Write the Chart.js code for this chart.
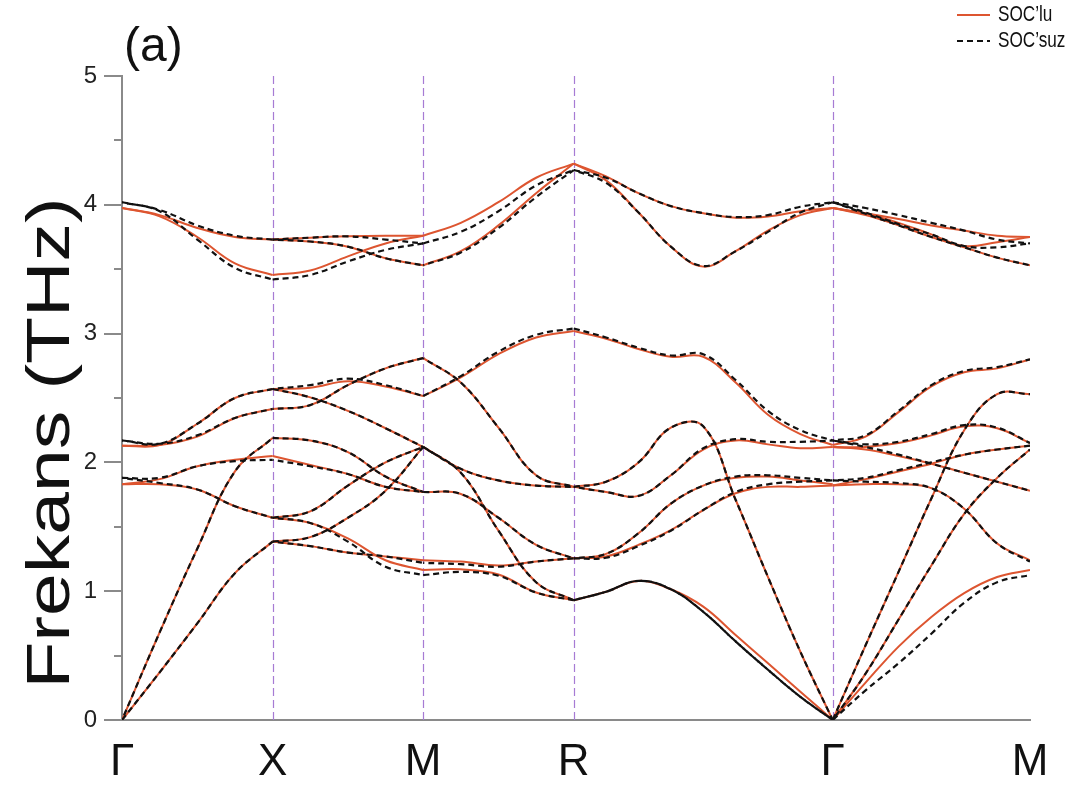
<!DOCTYPE html>
<html>
<head>
<meta charset="utf-8">
<title>Fonon dispersiyonu</title>
<script src="https://cdn.jsdelivr.net/npm/chart.js@4.4.1/dist/chart.umd.min.js"></script>
<style>
  html, body { margin:0; padding:0; background:#fff; }
  #wrap { width:1067px; height:787px; }
</style>
</head>
<body>
<div id="wrap"><canvas id="bands" width="1067" height="787"></canvas></div>
<script>
// k-path ticks
var kTicks = [0, 1, 2, 3, 4.72, 6.03];
var kLabels = ['\u0393', 'X', 'M', 'R', '\u0393', 'M'];
var seriesNames = ['SOC\u2019lu', 'SOC\u2019suz'];

// sample positions along each path segment
var kGX = [0, 0.25, 0.5, 0.75, 1];
var kXM = [1, 1.25, 1.5, 1.75, 2];
var kMR = [2, 2.25, 2.5, 2.75, 3];
var kRG = [3, 3.215, 3.43, 3.645, 3.86, 4.075, 4.29, 4.505, 4.72];
var kGM = [4.72, 4.938, 5.157, 5.375, 5.593, 5.812, 6.03];

// Gamma - X (THz)
var gxSoc = [
  [3.975, 3.92, 3.82, 3.75, 3.73],
  [3.975, 3.91, 3.75, 3.545, 3.455],
  [2.13, 2.135, 2.30, 2.50, 2.57],
  [2.13, 2.135, 2.20, 2.345, 2.415],
  [1.83, 1.87, 1.97, 2.02, 2.05],
  [1.83, 1.83, 1.79, 1.66, 1.57],
  [0, 0.37, 0.75, 1.14, 1.385],
  [0, 0.68, 1.33, 1.93, 2.19]
];
var gxNoSoc = [
  [4.02, 3.96, 3.84, 3.76, 3.73],
  [4.02, 3.95, 3.73, 3.51, 3.42],
  [2.17, 2.145, 2.30, 2.50, 2.57],
  [2.17, 2.145, 2.21, 2.345, 2.415],
  [1.88, 1.88, 1.97, 2.01, 2.02],
  [1.88, 1.84, 1.79, 1.66, 1.57],
  [0, 0.37, 0.75, 1.14, 1.385],
  [0, 0.68, 1.33, 1.93, 2.19]
];

// X - M
var xmSoc = [
  [3.73, 3.745, 3.755, 3.76, 3.76],
  [3.73, 3.715, 3.675, 3.585, 3.53],
  [3.455, 3.49, 3.60, 3.70, 3.76],
  [2.57, 2.58, 2.63, 2.59, 2.515],
  [2.57, 2.505, 2.40, 2.265, 2.12],
  [2.415, 2.445, 2.60, 2.73, 2.81],
  [2.19, 2.17, 2.08, 1.89, 1.77],
  [2.05, 1.98, 1.91, 1.81, 1.77],
  [1.57, 1.62, 1.82, 2.00, 2.12],
  [1.57, 1.53, 1.41, 1.24, 1.165],
  [1.385, 1.42, 1.57, 1.78, 2.12],
  [1.385, 1.35, 1.30, 1.27, 1.24]
];
var xmNoSoc = [
  [3.73, 3.745, 3.755, 3.73, 3.70],
  [3.73, 3.715, 3.675, 3.585, 3.53],
  [3.42, 3.455, 3.56, 3.65, 3.70],
  [2.57, 2.60, 2.65, 2.60, 2.515],
  [2.57, 2.505, 2.40, 2.265, 2.12],
  [2.415, 2.445, 2.60, 2.73, 2.81],
  [2.19, 2.17, 2.08, 1.89, 1.77],
  [2.02, 1.97, 1.91, 1.81, 1.77],
  [1.57, 1.62, 1.82, 2.00, 2.12],
  [1.57, 1.53, 1.385, 1.19, 1.125],
  [1.385, 1.42, 1.57, 1.78, 2.12],
  [1.385, 1.35, 1.30, 1.27, 1.22]
];

// M - R
var mrSoc = [
  [3.76, 3.86, 4.02, 4.21, 4.32],
  [3.53, 3.64, 3.84, 4.09, 4.32],
  [2.515, 2.66, 2.84, 2.97, 3.02],
  [2.81, 2.62, 2.27, 1.90, 1.81],
  [2.12, 1.95, 1.86, 1.82, 1.81],
  [2.12, 1.92, 1.47, 1.07, 0.93],
  [1.77, 1.755, 1.57, 1.36, 1.255],
  [1.24, 1.23, 1.20, 1.23, 1.255],
  [1.165, 1.17, 1.13, 0.99, 0.93]
];
var mrNoSoc = [
  [3.70, 3.79, 3.95, 4.15, 4.27],
  [3.53, 3.63, 3.82, 4.06, 4.27],
  [2.515, 2.67, 2.86, 2.99, 3.04],
  [2.81, 2.62, 2.27, 1.90, 1.81],
  [2.12, 1.95, 1.86, 1.82, 1.81],
  [2.12, 1.92, 1.47, 1.07, 0.93],
  [1.77, 1.755, 1.57, 1.36, 1.255],
  [1.22, 1.21, 1.19, 1.23, 1.255],
  [1.125, 1.15, 1.12, 0.99, 0.93]
];

// R - Gamma
var rgSoc = [
  [4.32, 4.22, 4.09, 3.99, 3.935, 3.90, 3.91, 3.95, 3.975],
  [4.32, 4.19, 3.94, 3.675, 3.52, 3.64, 3.80, 3.92, 3.975],
  [3.02, 2.96, 2.88, 2.82, 2.82, 2.62, 2.37, 2.22, 2.135],
  [1.81, 1.77, 1.74, 1.90, 2.10, 2.17, 2.14, 2.11, 2.12],
  [1.81, 1.85, 2.00, 2.27, 2.28, 1.71, 1.11, 0.53, 0],
  [1.255, 1.29, 1.45, 1.68, 1.82, 1.88, 1.89, 1.86, 1.83],
  [1.255, 1.27, 1.36, 1.475, 1.63, 1.76, 1.81, 1.81, 1.82],
  [0.93, 0.996, 1.08, 1.015, 0.88, 0.66, 0.44, 0.22, 0]
];
var rgNoSoc = [
  [4.27, 4.21, 4.09, 3.99, 3.935, 3.905, 3.92, 3.985, 4.02],
  [4.27, 4.17, 3.94, 3.675, 3.525, 3.64, 3.79, 3.94, 4.02],
  [3.04, 2.97, 2.89, 2.83, 2.84, 2.64, 2.40, 2.25, 2.17],
  [1.81, 1.77, 1.74, 1.90, 2.11, 2.18, 2.16, 2.16, 2.17],
  [1.81, 1.85, 2.00, 2.27, 2.28, 1.71, 1.11, 0.53, 0],
  [1.255, 1.29, 1.45, 1.68, 1.82, 1.89, 1.90, 1.88, 1.86],
  [1.255, 1.26, 1.35, 1.47, 1.63, 1.77, 1.83, 1.85, 1.86],
  [0.93, 0.996, 1.08, 1.015, 0.84, 0.61, 0.39, 0.18, 0],
  [0.93, 0.996, 1.08, 1.015, 0.84, 0.61, 0.39, 0.18, 0]
];

// Gamma - M
var gmSoc = [
  [3.975, 3.935, 3.89, 3.84, 3.80, 3.76, 3.75],
  [3.975, 3.93, 3.86, 3.77, 3.68, 3.71, 3.75],
  [3.975, 3.92, 3.84, 3.75, 3.67, 3.59, 3.53],
  [2.135, 2.20, 2.39, 2.59, 2.70, 2.73, 2.80],
  [2.12, 2.12, 2.15, 2.21, 2.28, 2.265, 2.15],
  [2.12, 2.10, 2.05, 1.99, 1.92, 1.85, 1.78],
  [1.82, 1.83, 1.83, 1.80, 1.64, 1.37, 1.24],
  [1.82, 1.87, 1.93, 1.99, 2.06, 2.10, 2.13],
  [0, 0.58, 1.15, 1.72, 2.25, 2.53, 2.53],
  [0, 0.36, 0.78, 1.20, 1.60, 1.88, 2.10],
  [0, 0.29, 0.57, 0.80, 0.985, 1.11, 1.165]
];
var gmNoSoc = [
  [4.02, 3.975, 3.92, 3.86, 3.80, 3.73, 3.70],
  [4.02, 3.94, 3.85, 3.77, 3.68, 3.67, 3.70],
  [4.02, 3.93, 3.84, 3.75, 3.67, 3.59, 3.53],
  [2.17, 2.21, 2.40, 2.60, 2.71, 2.74, 2.80],
  [2.17, 2.14, 2.16, 2.22, 2.29, 2.27, 2.15],
  [2.17, 2.12, 2.06, 1.99, 1.92, 1.85, 1.78],
  [1.86, 1.85, 1.84, 1.80, 1.64, 1.37, 1.23],
  [1.86, 1.88, 1.94, 2.00, 2.06, 2.10, 2.13],
  [0, 0.58, 1.15, 1.72, 2.25, 2.53, 2.53],
  [0, 0.36, 0.78, 1.20, 1.60, 1.88, 2.10],
  [0, 0.23, 0.44, 0.67, 0.91, 1.07, 1.125]
];

var socColor = '#dd5530';
var noSocColor = '#111111';
var fontFam = '"Liberation Sans", Arial, Helvetica, sans-serif';

var segments = [
  {k: kGX, soc: gxSoc, noSoc: gxNoSoc},
  {k: kXM, soc: xmSoc, noSoc: xmNoSoc},
  {k: kMR, soc: mrSoc, noSoc: mrNoSoc},
  {k: kRG, soc: rgSoc, noSoc: rgNoSoc},
  {k: kGM, soc: gmSoc, noSoc: gmNoSoc}
];

function makeSet(k, band, soc, idx) {
  return {
    label: soc ? seriesNames[0] : seriesNames[1],
    data: band.map(function(f, i) { return {x: k[i], y: f}; }),
    borderColor: soc ? socColor : noSocColor,
    borderWidth: soc ? 2 : 2.2,
    borderDash: soc ? [] : [6, 4],
    borderDashOffset: soc ? 0 : (idx * 5) % 10,
    fill: false,
    pointRadius: 0,
    tension: 0.4,
    order: soc ? 1 : 0
  };
}

var datasets = [];
segments.forEach(function(seg) {
  seg.noSoc.forEach(function(band, i) { datasets.push(makeSet(seg.k, band, false, i)); });
  seg.soc.forEach(function(band, i) { datasets.push(makeSet(seg.k, band, true, i)); });
});

//Decorations: symmetry lines, tick marks, titles, legend
var decor = {
  id: 'decor',
  beforeDatasetsDraw: function(chart) {
    var ctx = chart.ctx, area = chart.chartArea, xs = chart.scales.x;
    ctx.save();
    ctx.strokeStyle = '#a77bd4';
    ctx.lineWidth = 1.2;
    ctx.setLineDash([8, 4]);
    for (var i = 1; i < kTicks.length - 1; i++) {
      var px = Math.round(xs.getPixelForValue(kTicks[i])) + 0.5;
      ctx.beginPath();
      ctx.moveTo(px, area.top);
      ctx.lineTo(px, area.bottom);
      ctx.stroke();
    }
    ctx.restore();
  },
  afterDraw: function(chart) {
    var ctx = chart.ctx, area = chart.chartArea, ys = chart.scales.y;
    ctx.save();
    // y tick marks, major and minor
    ctx.strokeStyle = '#8a8a8a';
    ctx.lineWidth = 2;
    for (var v = 0; v <= 5.001; v += 0.5) {
      var py = Math.round(ys.getPixelForValue(v));
      var len = (Math.abs(v % 1) < 0.01) ? 18 : 8;
      ctx.beginPath();
      ctx.moveTo(area.left - len, py);
      ctx.lineTo(area.left, py);
      ctx.stroke();
    }
    // y title
    ctx.fillStyle = '#111';
    ctx.save();
    ctx.translate(52, 443);
    ctx.rotate(-Math.PI / 2);
    ctx.scale(1.26, 1);
    ctx.font = '61px ' + fontFam;
    ctx.textAlign = 'center';
    ctx.textBaseline = 'middle';
    ctx.fillText('Frekans (THz)', 0, 0);
    ctx.restore();
    // panel label
    ctx.font = '48px ' + fontFam;
    ctx.textAlign = 'left';
    ctx.textBaseline = 'alphabetic';
    ctx.fillText('(a)', 124, 61);
    // legend
    ctx.lineWidth = 2;
    ctx.strokeStyle = socColor;
    ctx.setLineDash([]);
    ctx.beginPath(); ctx.moveTo(957, 15); ctx.lineTo(990, 15); ctx.stroke();
    ctx.strokeStyle = noSocColor;
    ctx.setLineDash([6, 4]);
    ctx.beginPath(); ctx.moveTo(957, 41); ctx.lineTo(990, 41); ctx.stroke();
    ctx.font = '22px ' + fontFam;
    ctx.textBaseline = 'middle';
    [[seriesNames[0], 15], [seriesNames[1], 41]].forEach(function(item) {
      ctx.save();
      ctx.translate(998, item[1]);
      ctx.scale(0.78, 1);
      ctx.fillText(item[0], 0, 0);
      ctx.restore();
    });
    ctx.restore();
  }
};

var chart = new Chart(document.getElementById('bands'), {
  type: 'line',
  data: {datasets: datasets},
  options: {
    responsive: false,
    animation: false,
    events: [],
    layout: {padding: {top: 76, right: 37, left: 0, bottom: 0}},
    plugins: {legend: {display: false}, tooltip: {enabled: false}},
    scales: {
      x: {
        type: 'linear', min: 0, max: 6.03,
        afterBuildTicks: function(s) { s.ticks = kTicks.map(function(v) { return {value: v}; }); },
        afterFit: function(s) { s.height = 67; },
        grid: {display: false, drawTicks: false},
        border: {display: true, color: '#8a8a8a', width: 2},
        ticks: {
          autoSkip: false, maxRotation: 0, padding: 16, color: '#111',
          font: {family: fontFam, size: 44},
          callback: function(v, i) { return kLabels[i]; }
        }
      },
      y: {
        min: 0, max: 5,
        afterFit: function(s) { s.width = 122; },
        grid: {display: false, drawTicks: false},
        border: {display: true, color: '#8a8a8a', width: 2},
        ticks: {
          stepSize: 0.5, padding: 25, color: '#222',
          font: {family: fontFam, size: 24},
          callback: function(v) { return (Math.abs(v % 1) < 0.01) ? String(v) : ''; }
        }
      }
    }
  },
  plugins: [decor]
});
</script>
</body>
</html>
